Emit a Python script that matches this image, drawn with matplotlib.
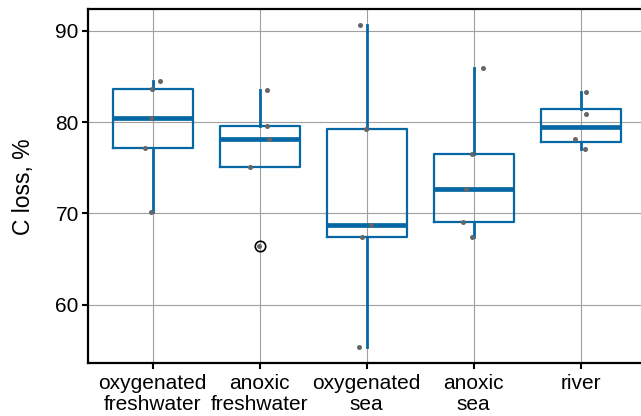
import matplotlib
matplotlib.use("Agg")
import matplotlib.pyplot as plt
import numpy as np

plt.rcParams['font.family'] = ['Liberation Sans', 'DejaVu Sans']

categories = ["oxygenated\nfreshwater", "anoxic\nfreshwater", "oxygenated\nsea", "anoxic\nsea", "river"]
oxy_fresh = [84.5, 83.6, 80.4, 77.2, 70.1]
anox_fresh = [83.5, 79.6, 78.1, 75.1, 66.4]
oxy_sea = [90.6, 79.2, 68.7, 67.4, 55.35]
anox_sea = [85.9, 76.5, 72.7, 69.05, 67.45]
river = [83.25, 80.85, 78.15, 77.0]
groups = [oxy_fresh, anox_fresh, oxy_sea, anox_sea, river]
# horizontal jitter of the points (category units)
jitter = [[0.065, -0.01, -0.02, -0.07, -0.015],
          [0.07, 0.065, 0.09, -0.09, -0.01],
          [-0.06, -0.005, 0.04, -0.04, -0.07],
          [0.09, -0.02, -0.07, -0.1, -0.02],
          [0.05, 0.05, -0.05, 0.04]]
yticks = [60, 70, 80, 90]

blue = '#0567A3'
fig = plt.figure(figsize=(6.41, 4.16), dpi=100)
ax = fig.add_axes([88.5/641, (416-363.3)/416, (644.9-88.5)/641, (363.3-9.3)/416])

pos = np.arange(1, len(groups) + 1)
ax.boxplot(groups, positions=pos, widths=0.75, showcaps=False, whis=1.5,
           boxprops=dict(color=blue, linewidth=1.6),
           whiskerprops=dict(color=blue, linewidth=2.0),
           medianprops=dict(color=blue, linewidth=3.4, solid_capstyle='butt'),
           flierprops=dict(marker='o', markerfacecolor='none', markeredgecolor='black',
                           markersize=7.5, markeredgewidth=1.2),
           zorder=3)

for i, (vals, jit) in enumerate(zip(groups, jitter)):
    ax.scatter(pos[i] + np.array(jit), vals, s=13, color='#666666', zorder=5, linewidths=0)

ax.set_xlim(0.4, 5.6)
ax.set_ylim(53.59, 92.34)
ax.set_xticks(pos)
ax.set_xticklabels(categories, linespacing=1.1)
ax.set_yticks(yticks)
ax.set_ylabel("C loss, %", fontsize=16.5, labelpad=15)
ax.tick_params(axis='both', labelsize=15, length=4, width=1.5, color='black', pad=3)
ax.tick_params(axis='x', pad=4)
ax.grid(True, color='#a0a0a0', linewidth=0.8)
ax.set_axisbelow(True)
for sp in ax.spines.values():
    sp.set_linewidth(1.6)
    sp.set_color('black')

fig.savefig("out.png", dpi=100)
